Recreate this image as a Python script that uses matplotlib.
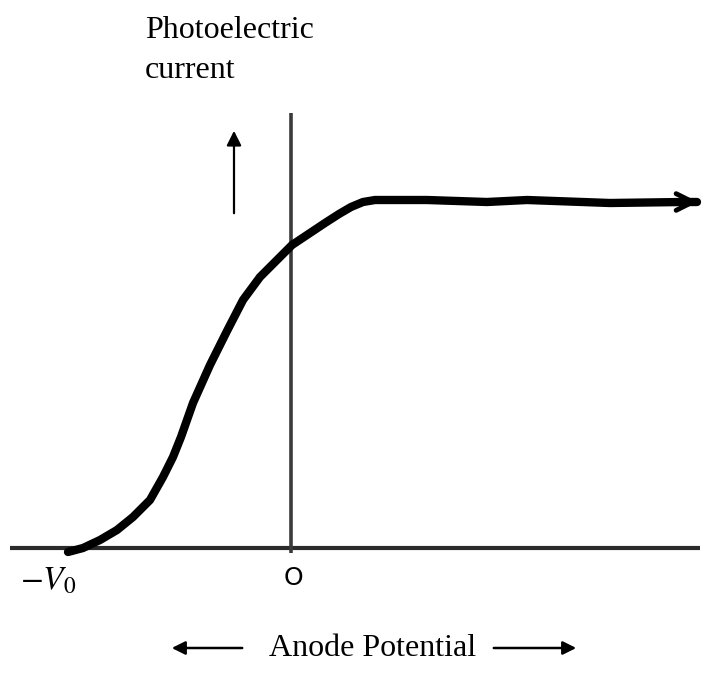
import numpy as np
from matplotlib import pyplot as plt

plt.rcParams['mathtext.fontset'] = 'stix'

# curve (x: anode potential, y: photoelectric current, arbitrary units)
curve_x = [-223, -208, -191, -174, -158, -141, -128, -118, -110, -98, -81, -64, -48, -31,
           -14, 1, 19, 34, 48, 60, 72, 84, 136, 196, 236, 319, 392, 406]
curve_y = [-4, 0, 8, 18, 31, 48, 71, 91, 111, 145, 183, 217, 248, 271,
           288, 303, 315, 325, 334, 341, 346, 348, 348, 346, 348, 345, 346, 346]

x_range = (-281, 409)
y_range = (-5, 435)

label_v0 = r'$-V_0$'
label_origin = 'O'
label_y1 = 'Photoelectric'
label_y2 = 'current'
label_x = 'Anode Potential'

fig = plt.figure(figsize=(7.12, 6.74), dpi=100)
ax = fig.add_axes([0, 0, 1, 1])
ax.set_xlim(-291, 421)
ax.set_ylim(-126, 548)
ax.axis('off')

# axes drawn like the hand sketch
ax.plot(x_range, [0, 0], color='#2b2b2b', lw=3.0, solid_capstyle='butt')
ax.plot([0, 0], y_range, color='#3a3a3a', lw=2.6, solid_capstyle='butt')

# photoelectric current curve
ax.plot(curve_x, curve_y, color='black', lw=6, solid_joinstyle='round', solid_capstyle='round')
ax.annotate('', xy=(curve_x[-1] + 4, curve_y[-1]), xytext=(curve_x[-1] - 10, curve_y[-1]),
            arrowprops=dict(arrowstyle='->', color='black', lw=3.5, mutation_scale=30))

# up arrow next to y label
ax.annotate('', xy=(-57, 420), xytext=(-57, 332),
            arrowprops=dict(arrowstyle='-|>', color='black', lw=1.6, mutation_scale=22))

ax.text(-146, 517, label_y1, fontsize=23, family='Liberation Serif', va='center', ha='left')
ax.text(-146, 477, label_y2, fontsize=23, family='Liberation Serif', va='center', ha='left')

ax.text(-243, -32, label_v0, fontsize=24, va='center', ha='center')
ax.text(2, -30, label_origin, fontsize=18, family='DejaVu Sans', va='center', ha='center')

ax.text(82, -100, label_x, fontsize=23, family='Liberation Serif', va='center', ha='center')
ax.annotate('', xy=(-122, -100), xytext=(-46, -100),
            arrowprops=dict(arrowstyle='-|>', color='black', lw=1.8, mutation_scale=20))
ax.annotate('', xy=(288, -100), xytext=(200, -100),
            arrowprops=dict(arrowstyle='-|>', color='black', lw=1.8, mutation_scale=20))

fig.savefig('out.png', dpi=100)
plt.close()
